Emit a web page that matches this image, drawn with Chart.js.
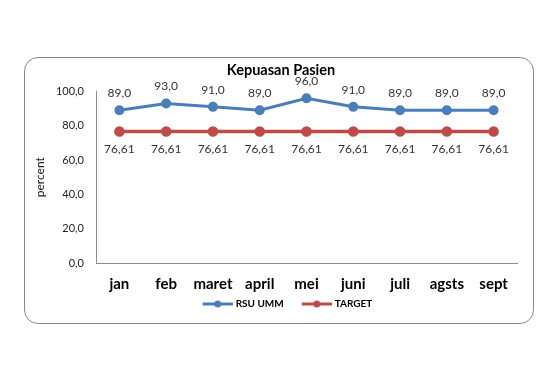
<html>

<head>
    <title>Kepuasan Pasien</title>
    <script src="https://cdn.jsdelivr.net/npm/chart.js"></script>
    <style>
        body { margin: 0; background: #fff; }
        #frame {
            position: absolute; left: 24px; top: 57px; width: 508px; height: 265px;
            border: 1px solid #8a8a8a; border-radius: 14px;
        }
        #wrap { position: absolute; left: 0; top: 0; width: 560px; height: 370px; }
    </style>
</head>

<body>
    <div id="frame"></div>
    <div id="wrap">
        <canvas id="kepuasan" width="560" height="370"></canvas>
    </div>
</body>
<script>
    const months = ["jan", "feb", "maret", "april", "mei", "juni", "juli", "agsts", "sept"];
    const rsuUmm = [89, 93, 91, 89, 96, 91, 89, 89, 89];
    const target = [76.61, 76.61, 76.61, 76.61, 76.61, 76.61, 76.61, 76.61, 76.61];
    const yTicks = [0, 20, 40, 60, 80, 100];

    const FONT = "Lato, 'Open Sans', sans-serif";
    const BLUE = "#4a7ebb";
    const RED = "#be4b48";

    // line + dot picture for the legend, with some blank room on the left
    function legendIcon(color) {
        const c = document.createElement("canvas");
        c.width = 45; c.height = 10;
        const ctx = c.getContext("2d");
        ctx.strokeStyle = color;
        ctx.lineWidth = 3;
        ctx.beginPath(); ctx.moveTo(15, 5); ctx.lineTo(45, 5); ctx.stroke();
        ctx.fillStyle = color;
        ctx.beginPath(); ctx.arc(30, 5, 3.5, 0, Math.PI * 2); ctx.fill();
        return c;
    }

    const comma = (v, d) => v.toFixed(d).replace(".", ",");

    // value labels: first series above, second series below
    const valueLabels = {
        id: "valueLabels",
        afterDatasetsDraw(chart) {
            const ctx = chart.ctx;
            ctx.save();
            ctx.font = "12px " + FONT;
            ctx.fillStyle = "#333";
            ctx.textAlign = "center";
            ctx.textBaseline = "middle";
            chart.data.datasets.forEach((ds, i) => {
                chart.getDatasetMeta(i).data.forEach((pt, j) => {
                    const v = ds.data[j];
                    if (i === 0) ctx.fillText(comma(v, 1), pt.x, pt.y - 17);
                    else ctx.fillText(comma(v, 2), pt.x, pt.y + 18);
                });
            });
            ctx.restore();
        }
    };

    new Chart(document.getElementById("kepuasan"), {
        type: "line",
        data: {
            labels: months,
            datasets: [{
                label: "RSU UMM",
                data: rsuUmm,
                borderColor: BLUE,
                backgroundColor: BLUE,
                borderWidth: 3,
                pointRadius: 3.5,
                pointStyle: "circle",
                tension: 0
            }, {
                label: "TARGET",
                data: target,
                borderColor: RED,
                backgroundColor: RED,
                borderWidth: 3.5,
                pointRadius: 3.5,
                tension: 0
            }]
        },
        options: {
            responsive: false,
            animation: false,
            layout: { padding: { left: 45, right: 43, top: 60, bottom: 51 } },
            plugins: {
                title: {
                    display: true,
                    text: "Kepuasan Pasien",
                    color: "#000",
                    font: { family: FONT, size: 14.5, weight: "bold" },
                    padding: { top: 2, bottom: 12 }
                },
                legend: {
                    position: "bottom",
                    labels: {
                        usePointStyle: true,
                        pointStyleWidth: 41,
                        color: "#000",
                        font: { family: FONT, size: 10, weight: "bold" },
                        padding: 5,
                        generateLabels(chart) {
                            return chart.data.datasets.map((ds, i) => ({
                                text: ds.label,
                                pointStyle: legendIcon(ds.borderColor),
                                fillStyle: ds.borderColor,
                                strokeStyle: ds.borderColor,
                                lineWidth: 0,
                                datasetIndex: i
                            }));
                        }
                    }
                },
                tooltip: { enabled: false }
            },
            scales: {
                x: {
                    offset: true,
                    grid: { display: false, offset: true, drawTicks: false },
                    border: { display: true, color: "#8c8c8c", width: 1 },
                    ticks: {
                        color: "#000",
                        padding: 12,
                        maxRotation: 0,
                        autoSkip: false,
                        font: { family: FONT, size: 15, weight: "bold" }
                    },
                    afterFit(s) { s.height = 31; }
                },
                y: {
                    min: 0,
                    max: 100,
                    afterBuildTicks(s) { s.ticks = yTicks.map(v => ({ value: v })); },
                    grid: { display: false, drawTicks: false },
                    border: { display: true, color: "#8c8c8c", width: 1 },
                    ticks: {
                        color: "#222",
                        padding: 12,
                        font: { family: FONT, size: 11 },
                        callback: v => comma(v, 1)
                    },
                    title: {
                        display: true,
                        text: "percent",
                        color: "#222",
                        font: { family: FONT, size: 12 },
                        padding: { top: -12, bottom: 0 }
                    },
                    afterFit(s) { s.width = 51; }
                }
            }
        },
        plugins: [valueLabels]
    });
</script>

</html>
